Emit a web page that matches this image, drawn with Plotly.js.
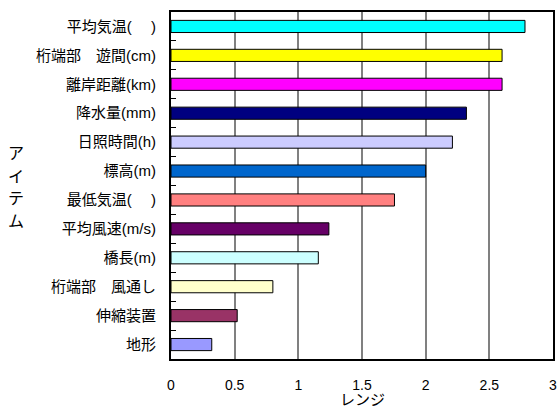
<!DOCTYPE html>
<html><head><meta charset="utf-8">
<script src="https://cdn.plot.ly/plotly-3.0.1.min.js"></script>
<style>html,body{margin:0;padding:0;background:#fff;}#chart{width:557px;height:407px;}</style>
</head><body><div id="chart"></div>
<script>
const categories = ["平均気温(\u3000 )","桁端部\u3000遊間(cm)","離岸距離(km)","降水量(mm)","日照時間(h)","標高(m)","最低気温(\u3000 )","平均風速(m/s)","橋長(m)","桁端部\u3000風通し","伸縮装置","地形"];
const values = [2.78, 2.60, 2.60, 2.32, 2.21, 2.00, 1.755, 1.24, 1.157, 0.80, 0.52, 0.32];
const colors = ["#00FFFF","#FFFF00","#FF00FF","#000080","#CCCCFF","#0066CC","#FF8080","#660066","#CCFFFF","#FFFFCC","#993366","#9999FF"];
const xTicks = [0, 0.5, 1, 1.5, 2, 2.5, 3];
const xTickText = ["0","0.5","1","1.5","2","2.5","3"];
const yTitleChars = ["ア","イ","テ","ム"];

const font = "Liberation Sans, Arial, Noto Sans CJK JP, sans-serif";
const trace = {
  type: "bar", orientation: "h",
  x: values, y: categories,
  marker: {color: colors, line: {color: "#000", width: 1}},
  width: 0.42,
  hoverinfo: "none"
};
const plotTop = 12, plotBottom = 359;
const titleAnn = yTitleChars.map((c, i) => ({
  text: c, xref: "paper", yref: "paper", x: -0.405,
  y: (plotBottom - (152 + i * 22.7)) / (plotBottom - plotTop),
  xanchor: "center", yanchor: "middle", showarrow: false,
  font: {family: "Noto Sans CJK JP, sans-serif", size: 16, color: "#000"}
}));
const layout = {
  width: 557, height: 407,
  margin: {l: 171, r: 4, t: plotTop, b: 407 - plotBottom},
  paper_bgcolor: "#fff", plot_bgcolor: "#fff",
  showlegend: false,
  font: {family: font, size: 13, color: "#000"},
  xaxis: {
    range: [0, 3], tickvals: xTicks, ticktext: xTickText,
    showgrid: true, gridcolor: "#808080", gridwidth: 2,
    zeroline: false, showline: true, linecolor: "#000", linewidth: 2, mirror: true,
    ticks: "", ticklabelstandoff: 12, ticklabeloverflow: "allow",
    tickfont: {family: font, size: 14, color: "#000"},
    fixedrange: true
  },
  yaxis: {
    type: "category", categoryorder: "array", categoryarray: categories,
    autorange: "reversed",
    showgrid: false, zeroline: false,
    showline: true, linecolor: "#000", linewidth: 2, mirror: true,
    ticks: "inside", tickson: "boundaries", ticklen: 5, tickcolor: "#000", tickwidth: 1,
    ticklabelstandoff: 10,
    tickfont: {family: "Liberation Sans, Noto Sans CJK JP, sans-serif", size: 15, color: "#000"},
    fixedrange: true
  },
  annotations: titleAnn.concat([
    {text: "レンジ", xref: "paper", yref: "paper", x: 0.5, y: 0, yshift: -27,
     xanchor: "center", yanchor: "top", showarrow: false,
     font: {family: "Noto Sans CJK JP, sans-serif", size: 15, color: "#000"}}
  ])
};
Plotly.newPlot("chart", [trace], layout, {staticPlot: true, displayModeBar: false});
</script></body></html>
